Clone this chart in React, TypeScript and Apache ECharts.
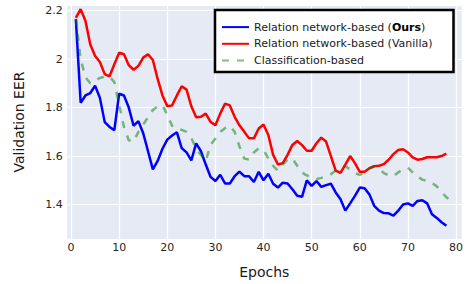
import React, { useEffect, useRef } from "react";
import * as echarts from "echarts";

const epochs: number[] = Array.from({ length: 79 }, (_, i) => i + 1);

const oursEER: number[] = [
  2.165, 1.82, 1.85, 1.86, 1.89, 1.84, 1.74, 1.72, 1.707, 1.857,
  1.85, 1.8, 1.725, 1.744, 1.694, 1.62, 1.545, 1.58, 1.63, 1.668,
  1.685, 1.698, 1.633, 1.615, 1.582, 1.652, 1.62, 1.565, 1.514, 1.497,
  1.523, 1.487, 1.487, 1.517, 1.536, 1.517, 1.517, 1.493, 1.535, 1.5,
  1.527, 1.486, 1.47, 1.49, 1.487, 1.463, 1.436, 1.432, 1.5, 1.477,
  1.497, 1.473, 1.48, 1.486, 1.45, 1.422, 1.375, 1.405, 1.436, 1.47,
  1.467, 1.442, 1.395, 1.375, 1.365, 1.364, 1.354, 1.375, 1.4, 1.405,
  1.395, 1.415, 1.418, 1.405, 1.36, 1.345, 1.327, 1.313,
];

const vanillaEER: number[] = [
  2.17, 2.206, 2.157, 2.06, 2.013, 1.988, 1.938, 1.929, 1.979, 2.026,
  2.02, 1.975, 1.956, 1.972, 2.006, 2.02, 1.996, 1.918, 1.85, 1.806,
  1.809, 1.85, 1.888, 1.874, 1.805, 1.76, 1.762, 1.775, 1.741, 1.727,
  1.775, 1.816, 1.809, 1.762, 1.727, 1.7, 1.673, 1.673, 1.714, 1.73,
  1.687, 1.605, 1.565, 1.571, 1.605, 1.646, 1.662, 1.645, 1.622, 1.622,
  1.653, 1.676, 1.66, 1.6, 1.54, 1.531, 1.565, 1.6, 1.571, 1.535,
  1.535, 1.55, 1.558, 1.56, 1.567, 1.585, 1.608, 1.625, 1.628, 1.615,
  1.595, 1.585, 1.588, 1.595, 1.595, 1.595, 1.6, 1.61,
];

const classificationEER: number[] = [
  2.165, 2.0, 1.925, 1.9, 1.912, 1.922, 1.928, 1.928, 1.905, 1.81,
  1.72, 1.665, 1.66, 1.7, 1.73, 1.76, 1.79, 1.805, 1.81, 1.77,
  1.725, 1.712, 1.708, 1.7, 1.675, 1.63, 1.605, 1.58, 1.646, 1.672,
  1.7, 1.715, 1.725, 1.7, 1.64, 1.59, 1.585, 1.615, 1.632, 1.625,
  1.59, 1.56, 1.54, 1.565, 1.585, 1.59, 1.56, 1.532, 1.52, 1.51,
  1.505, 1.51, 1.516, 1.525, 1.54, 1.551, 1.558, 1.545, 1.531, 1.522,
  1.532, 1.548, 1.557, 1.548, 1.53, 1.52, 1.517, 1.533, 1.545, 1.552,
  1.533, 1.515, 1.503, 1.497, 1.489, 1.475, 1.452, 1.43, 1.415,
];

const seriesNames: string[] = [
  "Relation network-based (Ours)",
  "Relation network-based (Vanilla)",
  "Classification-based",
];

const FONT = "DejaVu Sans";

function pairs(values: number[]): number[][] {
  return values.map((v, i) => [epochs[i], v]);
}

export default function App() {
  const ref = useRef<HTMLDivElement>(null);
  useEffect(() => {
    if (!ref.current) return;
    const chart = echarts.init(ref.current, null, { renderer: "svg" });
    chart.setOption({
      animation: false,
      backgroundColor: "#ffffff",
      grid: {
        left: 66.7,
        right: 0,
        top: 5,
        bottom: 42,
        show: true,
        backgroundColor: "#e5eaf4",
        borderWidth: 0,
        containLabel: false,
      },
      legend: {
        orient: "vertical",
        left: 215,
        top: 10,
        data: seriesNames,
        itemWidth: 27,
        itemHeight: 14,
        itemGap: 5.5,
        padding: [11.5, 21, 6, 6],
        backgroundColor: "#ffffff",
        borderColor: "#000000",
        borderWidth: 2.5,
        borderRadius: 0,
        itemStyle: { opacity: 0, borderWidth: 0 },
        formatter: (name: string) => {
          if (name === seriesNames[0]) {
            return "{n|Relation network-based (}{b|Ours}{n|)}";
          }
          return "{n|" + name + "}";
        },
        textStyle: {
          fontFamily: FONT,
          fontSize: 11,
          color: "#1a1a1a",
          rich: {
            n: { fontFamily: FONT, fontSize: 11, color: "#1a1a1a", lineHeight: 14 },
            b: { fontFamily: FONT, fontSize: 11, color: "#000000", fontWeight: "bold", lineHeight: 14 },
          },
        },
      },
      xAxis: {
        type: "value",
        min: -0.9,
        max: 81.2,
        splitNumber: 8,
        name: "Epochs",
        nameLocation: "middle",
        nameGap: 26,
        nameTextStyle: { fontFamily: FONT, fontSize: 14, color: "#1a1a1a" },
        axisLine: { show: false },
        axisTick: { show: false },
        axisLabel: {
          fontFamily: FONT,
          fontSize: 11,
          color: "#262626",
          margin: 3,
          showMinLabel: false,
          showMaxLabel: false,
        },
        splitLine: { show: true, lineStyle: { color: "#ffffff", width: 1.2 } },
      },
      yAxis: {
        type: "value",
        min: 1.258,
        max: 2.223,
        splitNumber: 5,
        name: "Validation EER",
        nameLocation: "middle",
        nameGap: 41,
        nameTextStyle: { fontFamily: FONT, fontSize: 14, color: "#1a1a1a" },
        axisLine: { show: false },
        axisTick: { show: false },
        axisLabel: {
          fontFamily: FONT,
          fontSize: 11,
          color: "#262626",
          margin: 4,
          showMinLabel: false,
          showMaxLabel: false,
        },
        splitLine: { show: true, lineStyle: { color: "#ffffff", width: 1.2 } },
      },
      series: [
        {
          name: seriesNames[0],
          type: "line",
          data: pairs(oursEER),
          showSymbol: false,
          symbol: "none",
          color: "#0000ff",
          lineStyle: { color: "#0000ff", width: 2.5 },
          z: 2,
        },
        {
          name: seriesNames[1],
          type: "line",
          data: pairs(vanillaEER),
          showSymbol: false,
          symbol: "none",
          color: "#ff0000",
          lineStyle: { color: "#ff0000", width: 2.5 },
          z: 3,
        },
        {
          name: seriesNames[2],
          type: "line",
          data: pairs(classificationEER),
          showSymbol: false,
          symbol: "none",
          color: "rgba(0,128,0,0.5)",
          lineStyle: { color: "rgba(0,128,0,0.5)", width: 2.5, type: [7, 8] },
          z: 4,
        },
      ],
    });
    return () => chart.dispose();
  }, []);
  return (
    <div
      ref={ref}
      style={{ position: "fixed", left: 0, top: 0, width: 466, height: 284 }}
    />
  );
}
